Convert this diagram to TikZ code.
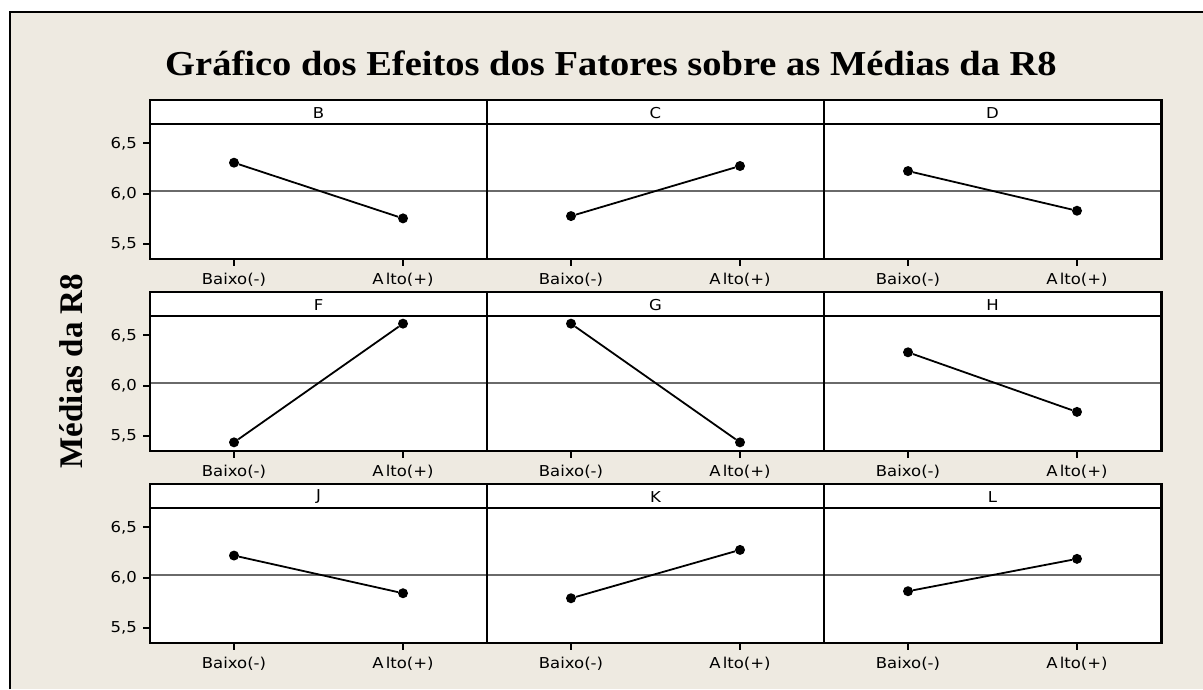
\documentclass[tikz,border=0pt]{standalone}
\usepackage{fontspec}
\setmainfont{Liberation Serif}
\newfontfamily\tickfont{DejaVu Sans}
\definecolor{bg}{HTML}{EEEAE1}
\definecolor{meangray}{HTML}{6A6A6A}
\begin{document}
\begin{tikzpicture}[x=1pt,y=-1pt,
  dot/.style={circle,fill=black,inner sep=0pt,minimum size=10pt},
  ticklab/.style={font=\tickfont\fontsize{15}{17}\selectfont,inner sep=0pt},
  panelfill/.style={fill=white,draw=none,minimum width=337pt,minimum height=158.5pt,anchor=north west,inner sep=0pt},
  border/.style={draw=black,line width=2.4pt},
  meanline/.style={draw=meangray,line width=1.6pt},
  dataline/.style={draw=black,line width=1.8pt},
  tickmark/.style={draw=black,line width=2pt}]
\useasboundingbox (0,0) rectangle (1203,689);
\fill[white] (0,0) rectangle (1203,689);
\fill[bg] (10,12) rectangle (1203,689);
\draw[line width=1.8pt] (10,689) -- (10,12) -- (1203,12);
\node[anchor=base,inner sep=0pt,font=\bfseries\fontsize{35}{40}\selectfont] (title) at (611,75)
  {\scalebox{1.1}[1]{Gráfico dos Efeitos dos Fatores sobre as Médias da R8}};
\node[anchor=base,rotate=90,inner sep=0pt,font=\bfseries\fontsize{33}{38}\selectfont] (ylab) at (82.5,371)
  {Médias da R8};
\foreach \nm/\c/\r/\lo/\hi in {B/0/0/6.307/5.753, C/1/0/5.776/6.274, D/2/0/6.224/5.829,
  F/0/1/5.435/6.616, G/1/1/6.616/5.435, H/2/1/6.331/5.738,
  J/0/2/6.219/5.844, K/1/2/5.794/6.275, L/2/2/5.864/6.186}{
  \pgfmathsetmacro{\L}{150+337*\c}
  \pgfmathsetmacro{\R}{\L+337}
  \pgfmathsetmacro{\T}{100+192*\r}
  \pgfmathsetmacro{\H}{\T+23.5}
  \pgfmathsetmacro{\B}{\T+158.5}
  \pgfmathsetmacro{\ylo}{\T+43.3+(6.5-\lo)*100.5}
  \pgfmathsetmacro{\yhi}{\T+43.3+(6.5-\hi)*100.5}
  \pgfmathsetmacro{\ym}{\T+43.3+(6.5-6.025)*100.5}
  \pgfmathsetmacro{\xa}{\L+84}
  \pgfmathsetmacro{\xb}{\L+253}
  \node[panelfill] (\nm-frame) at (\L,\T) {};
  \draw[line width=2pt] (\L,\H) -- (\R,\H);
  \node[ticklab] (\nm-head) at ({\L+168.5},{\T+13}) {\scalebox{1.1}[1]{\nm}};
  \draw[meanline] (\L,\ym) -- (\R,\ym);
  \draw[tickmark] (\xa,\B) -- (\xa,\B+7);
  \draw[tickmark] (\xb,\B) -- (\xb,\B+7);
  \node[ticklab] (\nm-xlo) at (\xa,\B+21) {\scalebox{1.1}[1]{Baixo(-)}};
  \node[ticklab] (\nm-xhi) at (\xb,\B+21) {\scalebox{1.1}[1]{A\kern2pt lto(+)}};
  \ifnum\c=0
    \foreach \v/\t in {6.5/{6,5},6.0/{6,0},5.5/{5,5}}{
      \pgfmathsetmacro{\yv}{\T+43.3+(6.5-\v)*100.5}
      \draw[tickmark] (\L-7,\yv) -- (\L,\yv);
      \node[ticklab,anchor=east] at (\L-13,\yv) {\scalebox{1.1}[1]{\t}};
    }
  \fi
  \node[dot] (\nm-lo) at (\xa,\ylo) {};
  \node[dot] (\nm-hi) at (\xb,\yhi) {};
  \draw[dataline] (\nm-lo) -- (\nm-hi);
  \draw[border] (\nm-frame.north west) rectangle (\nm-frame.south east);
}
\end{tikzpicture}
\end{document}
